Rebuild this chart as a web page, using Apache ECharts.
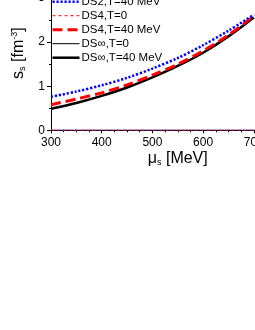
<!DOCTYPE html>
<html><head><meta charset="utf-8">
<script src="https://cdn.jsdelivr.net/npm/echarts@6/dist/echarts.min.js"></script>
<style>html,body{margin:0;padding:0;background:#fff}#c{width:255px;height:330px}</style>
</head><body><div id="c"></div>
<script>
const muS = [300, 350, 400, 450, 500, 550, 600, 650, 700];
const ds2T40 = [0.76, 0.88, 1.02, 1.19, 1.40, 1.64, 1.93, 2.26, 2.62];
const ds4T40 = [0.58, 0.71, 0.85, 1.03, 1.25, 1.50, 1.80, 2.16, 2.59];
const dsInfT40 = [0.49, 0.62, 0.78, 0.97, 1.20, 1.46, 1.76, 2.13, 2.56];
const muS0 = [300, 800];
const zeroT0 = [0, 0];
const xTicks = [300, 400, 500, 600, 700, 800];
const yTicks = [0, 1, 2, 3];
const names = ['DS2,T=0', 'DS2,T=40 MeV', 'DS4,T=0', 'DS4,T=40 MeV', 'DS\u221e,T=0', 'DS\u221e,T=40 MeV'];

const pairs = (xs, ys) => xs.map((x, i) => [x, ys[i]]);
const FONT = 'Liberation Sans, Arial, sans-serif';
const chart = echarts.init(document.getElementById('c'), null, {renderer: 'canvas'});
const styles = [
  {color: '#0000ff', width: 1, type: [1.5, 1.5]},
  {color: '#0000ff', width: 2.5, type: [2.2, 1.8]},
  {color: '#ff0000', width: 1, type: [3, 3]},
  {color: '#ff0000', width: 3, type: [10, 5]},
  {color: '#000000', width: 1, type: 'solid'},
  {color: '#000000', width: 2.5, type: 'solid'}
];
function ser(i, xs, ys, z) {
  const s = styles[i];
  return {name: names[i], type: 'line', data: pairs(xs, ys), symbol: 'none', showSymbol: false, smooth: 0.3, z,
    lineStyle: {color: s.color, width: s.width, type: s.type, cap: 'butt'}, itemStyle: {color: s.color}};
}
chart.setOption({
  animation: false,
  backgroundColor: '#fff',
  grid: {left: 51, top: -24, width: 253.5, height: 154.3, containLabel: false, outerBoundsMode: 'none'},
  legend: {
    orient: 'vertical', left: 51, top: -19.3, itemWidth: 27, itemHeight: 14, itemGap: 0,
    padding: 0, selectedMode: false,
    itemStyle: {opacity: 0, borderWidth: 0},
    textStyle: {fontFamily: FONT, fontSize: 11.5, color: '#000', lineHeight: 14, padding: [0, 0, 0, -3]},
    data: names.map((n, i) => ({name: n, lineStyle: {width: styles[i].width, type: styles[i].type, color: styles[i].color}, itemStyle: {opacity: 0, borderWidth: 0}}))
  },
  xAxis: {
    type: 'value', min: 300, max: 800, interval: 100,
    name: '{a|\u03bc}{sub|s}{a| [MeV]}', nameLocation: 'middle', nameGap: 17,
    nameTextStyle: {fontFamily: FONT, rich: {
      a: {fontFamily: FONT, fontSize: 16, color: '#000', lineHeight: 19},
      sub: {fontFamily: FONT, fontSize: 9, color: '#000', lineHeight: 19, padding: [9, 0, 0, 0]}
    }},
    axisLine: {lineStyle: {color: '#000', width: 1}},
    axisTick: {show: true, inside: false, length: 3, lineStyle: {color: '#000'}},
    minorTick: {show: true, splitNumber: 4, length: 2, lineStyle: {color: '#000'}},
    splitLine: {show: false},
    axisLabel: {fontFamily: FONT, fontSize: 12, color: '#000', margin: 6,
      formatter: v => xTicks.includes(v) ? String(v) : ''}
  },
  yAxis: {
    type: 'value', min: 0, max: 3.5, interval: 1,
    name: '{a|s}{sub|s}{a| [fm}{sup|-3}{a|]}', nameLocation: 'middle', nameGap: 22, nameRotate: 90,
    nameTextStyle: {fontFamily: FONT, rich: {
      a: {fontFamily: FONT, fontSize: 16, color: '#000', lineHeight: 19},
      sub: {fontFamily: FONT, fontSize: 9, color: '#000', lineHeight: 19, padding: [9, 0, 0, 0]},
      sup: {fontFamily: FONT, fontSize: 9, color: '#000', lineHeight: 19, padding: [0, 0, 8, 0]}
    }},
    axisLine: {show: true, lineStyle: {color: '#000', width: 1}},
    axisTick: {show: true, inside: false, length: 4, lineStyle: {color: '#000'}},
    minorTick: {show: true, splitNumber: 2, length: 2, lineStyle: {color: '#000'}},
    splitLine: {show: false},
    axisLabel: {fontFamily: FONT, fontSize: 12, color: '#000', margin: 6,
      formatter: v => yTicks.includes(v) ? String(v) : ''}
  },
  series: [
    ser(0, muS0, zeroT0, 3),
    ser(1, muS, ds2T40, 6),
    ser(2, muS0, zeroT0, 4),
    ser(3, muS, ds4T40, 5),
    ser(4, muS0, zeroT0, 2),
    ser(5, muS, dsInfT40, 4)
  ]
});
</script></body></html>
